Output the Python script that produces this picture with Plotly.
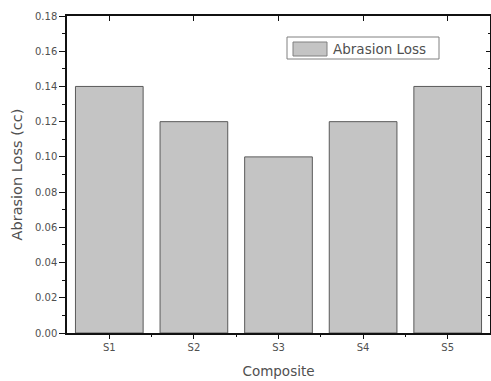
import plotly.graph_objects as go

# Abrasion loss per composite sample
categories = ["S1", "S2", "S3", "S4", "S5"]
abrasion_loss = [0.14, 0.12, 0.10, 0.12, 0.14]
y_tick_values = [0.00, 0.02, 0.04, 0.06, 0.08, 0.10, 0.12, 0.14, 0.16, 0.18]
series_name = "Abrasion Loss"

positions = list(range(len(categories)))
text_color = "#505050"
bar_fill = "#c4c4c4"
bar_edge = "#5a5a5a"
family = "DejaVu Sans, Liberation Sans, Arial, sans-serif"
tick_font = dict(family=family, size=10, color=text_color)

W, H = 491, 381
M = dict(l=67, r=1, t=16, b=48)
plot_w = W - M["l"] - M["r"]
plot_h = H - M["t"] - M["b"]


def px(x):
    return (x - M["l"]) / plot_w


def py(y):
    return 1 - (y - M["t"]) / plot_h


fig = go.Figure()
fig.add_trace(go.Bar(
    x=positions, y=abrasion_loss, name=series_name,
    width=0.8, showlegend=False,
    marker=dict(color=bar_fill, line=dict(color=bar_edge, width=1)),
))
# invisible copy that anchors the mirrored top/right axes
fig.add_trace(go.Bar(
    x=positions, y=abrasion_loss, xaxis="x2", yaxis="y2",
    width=0.8, opacity=0, showlegend=False, hoverinfo="skip",
))

axis_common = dict(showgrid=False, zeroline=False, showline=True,
                   linecolor="#111111", linewidth=1.5, tickcolor="#111111")

# legend box with a wide swatch
shapes = [
    dict(type="rect", xref="paper", yref="paper",
         x0=px(287), x1=px(439), y0=py(59), y1=py(37),
         line=dict(color="#808080", width=1), fillcolor="white"),
    dict(type="rect", xref="paper", yref="paper",
         x0=px(293), x1=px(327), y0=py(56), y1=py(42),
         line=dict(color="#808080", width=1), fillcolor=bar_fill),
]
annotations = [
    dict(text=series_name, xref="paper", yref="paper", x=px(331), y=py(48.5),
         xanchor="left", yanchor="middle", showarrow=False,
         font=dict(family=family, size=13.5, color=text_color)),
]

fig.update_layout(
    width=W, height=H,
    margin=M,
    paper_bgcolor="white", plot_bgcolor="white",
    font=tick_font,
    bargap=0.2,
    showlegend=False,
    shapes=shapes,
    annotations=annotations,
    xaxis=dict(**axis_common, range=[-0.5, 4.5], tickvals=positions, ticktext=categories,
               ticks="outside", ticklen=4, tickfont=tick_font,
               minor=dict(tickvals=[p + 0.5 for p in positions[:-1]], ticks="outside",
                          ticklen=2, tickcolor="#111111"),
               title=dict(text="Composite", font=dict(family=family, size=13.5, color=text_color),
                          standoff=15)),
    yaxis=dict(**axis_common, range=[0, 0.18], tickvals=y_tick_values, tickformat=".2f",
               ticks="outside", ticklen=6, tickfont=tick_font,
               minor=dict(dtick=0.01, ticks="outside", ticklen=3, tickcolor="#111111"),
               title=dict(text="Abrasion Loss (cc)", font=dict(family=family, size=14.5, color=text_color),
                          standoff=9)),
    xaxis2=dict(**axis_common, overlaying="x", side="top", matches="x", range=[-0.5, 4.5],
                tickvals=positions, showticklabels=False, ticks="inside", ticklen=5),
    yaxis2=dict(**axis_common, overlaying="y", side="right", matches="y", range=[0, 0.18],
                tickvals=y_tick_values, showticklabels=False, ticks="inside", ticklen=4,
                minor=dict(dtick=0.01, ticks="inside", ticklen=2, tickcolor="#111111")),
)

fig.write_html("out.html")
